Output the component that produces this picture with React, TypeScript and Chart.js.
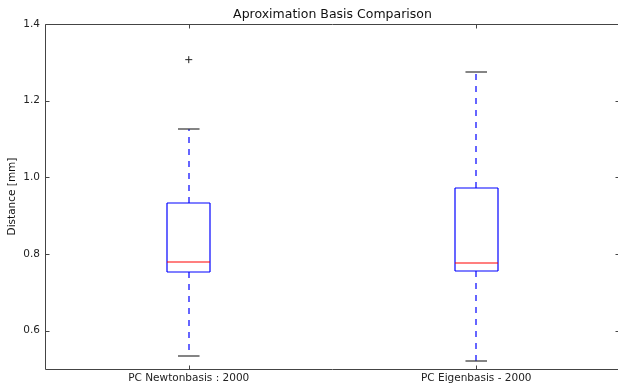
import React, { useEffect, useRef } from 'react';
import { Chart, registerables } from 'chart.js';

Chart.register(...registerables);

const titleText = 'Aproximation Basis Comparison';
const yLabel = 'Distance [mm]';
const categories = ['PC Newtonbasis : 2000', 'PC Eigenbasis - 2000'];
const whiskerLow = [0.533, 0.521];
const q1 = [0.752, 0.755];
const median = [0.778, 0.776];
const q3 = [0.932, 0.971];
const whiskerHigh = [1.127, 1.274];
const outliers = [[1.307], []];
const yTicks = [0.6, 0.8, 1.0, 1.2, 1.4];

const FONT = "'DejaVu Sans', sans-serif";

function line(ctx: CanvasRenderingContext2D, x1: number, y1: number, x2: number, y2: number, color: string, dash: number[] = [], width = 1) {
  ctx.save();
  ctx.strokeStyle = color;
  ctx.lineWidth = width;
  ctx.setLineDash(dash);
  ctx.beginPath();
  ctx.moveTo(x1, y1);
  ctx.lineTo(x2, y2);
  ctx.stroke();
  ctx.restore();
}

export default function App() {
  const ref = useRef<HTMLCanvasElement>(null);

  useEffect(() => {
    const boxPlugin = {
      id: 'boxes',
      afterDatasetsDraw(chart: any) {
        const { ctx, chartArea: a, scales } = chart;
        const xs = scales.x;
        const ys = scales.y;
        const boxHalf = 0.075;
        const capHalf = 0.0375;
        const blue = '#0000ff';
        for (let i = 0; i < categories.length; i++) {
          const xv = i + 1;
          const cx = Math.round(xs.getPixelForValue(xv));
          const bl = Math.round(xs.getPixelForValue(xv - boxHalf));
          const br = Math.round(xs.getPixelForValue(xv + boxHalf));
          const cl = xs.getPixelForValue(xv - capHalf);
          const cr = xs.getPixelForValue(xv + capHalf);
          const yq1 = Math.round(ys.getPixelForValue(q1[i]));
          const yq3 = Math.round(ys.getPixelForValue(q3[i]));
          const ymed = Math.round(ys.getPixelForValue(median[i]));
          const ylo = Math.round(ys.getPixelForValue(whiskerLow[i]));
          const yhi = Math.round(ys.getPixelForValue(whiskerHigh[i]));

          line(ctx, cx, yq3, cx, yhi, blue, [6, 6], 1.2);
          line(ctx, cx, yq1, cx, ylo, blue, [6, 6], 1.2);
          line(ctx, cl, yhi, cr, yhi, '#333', [], 1.2);
          line(ctx, cl, ylo, cr, ylo, '#333', [], 1.2);
          line(ctx, bl, yq3, br, yq3, blue, [], 1.2);
          line(ctx, bl, yq1, br, yq1, blue, [], 1.2);
          line(ctx, bl, yq3, bl, yq1, blue, [], 1.2);
          line(ctx, br, yq3, br, yq1, blue, [], 1.2);
          line(ctx, bl, ymed, br, ymed, '#ff0000', [], 1.2);
        }

        const L = Math.round(a.left) + 0.5;
        const R = Math.round(a.right) - 0.5;
        const T = Math.round(a.top) + 0.5;
        const B = Math.round(a.bottom) + 0.5;
        const frame = '#444';
        line(ctx, L, T, R, T, frame);
        line(ctx, L, B, R, B, frame);
        line(ctx, L, T, L, B, frame);
        line(ctx, R, T, R, B, frame);
        const tl = 4;
        yTicks.forEach((v) => {
          const y = Math.round(ys.getPixelForValue(v)) + 0.5;
          line(ctx, L, y, L + tl, y, frame);
          line(ctx, R, y, R - tl, y, frame);
        });
        categories.forEach((_, i) => {
          const x = Math.round(xs.getPixelForValue(i + 1)) + 0.5;
          line(ctx, x, B, x, B - tl, frame);
          line(ctx, x, T, x, T + tl, frame);
        });

        ctx.save();
        ctx.fillStyle = '#111';
        ctx.font = `12.5px ${FONT}`;
        ctx.textAlign = 'center';
        ctx.textBaseline = 'middle';
        ctx.fillText(titleText, (a.left + a.right) / 2, 15);
        ctx.font = `10.5px ${FONT}`;
        ctx.translate(12, (a.top + a.bottom) / 2);
        ctx.rotate(-Math.PI / 2);
        ctx.fillText(yLabel, 0, 0);
        ctx.restore();
      },
    };

    const outlierPoints: { x: number; y: number }[] = [];
    outliers.forEach((list, i) => list.forEach((v) => outlierPoints.push({ x: i + 1, y: v })));

    const chart = new Chart(ref.current as HTMLCanvasElement, {
      type: 'scatter',
      data: {
        datasets: [
          {
            data: outlierPoints,
            pointStyle: 'cross',
            pointRadius: 3.5,
            borderColor: '#222',
            backgroundColor: '#222',
            borderWidth: 1,
          },
        ],
      },
      options: {
        animation: false,
        responsive: false,
        devicePixelRatio: 1,
        layout: { autoPadding: false, padding: { top: 24, left: 0, right: 0, bottom: 0 } },
        plugins: {
          legend: { display: false },
          tooltip: { enabled: false },
          title: { display: false },
        },
        scales: {
          x: {
            type: 'linear',
            min: 0.5,
            max: 2.5,
            afterBuildTicks: (s: any) => {
              s.ticks = categories.map((_, i) => ({ value: i + 1 }));
            },
            afterFit: (s: any) => {
              s.height = 16;
              s.paddingLeft = 0;
              s.paddingRight = 0;
            },
            grid: { display: false, drawTicks: false },
            border: { display: false },
            ticks: {
              callback: (v: any) => categories[Math.round(Number(v)) - 1],
              font: { family: FONT, size: 10.5 },
              color: '#222',
              padding: 3,
              maxRotation: 0,
              autoSkip: false,
            },
          },
          y: {
            type: 'linear',
            min: 0.5,
            max: 1.4,
            afterBuildTicks: (s: any) => {
              s.ticks = yTicks.map((v) => ({ value: v }));
            },
            afterFit: (s: any) => {
              s.width = 45;
              s.paddingTop = 0;
              s.paddingBottom = 0;
            },
            grid: { display: false, drawTicks: false },
            border: { display: false },
            ticks: {
              callback: (v: any) => Number(v).toFixed(1),
              font: { family: FONT, size: 10.5 },
              color: '#222',
              padding: 5,
            },
          },
        },
      },
      plugins: [boxPlugin],
    });
    return () => chart.destroy();
  }, []);

  return (
    <div style={{ position: 'absolute', left: 0, top: 0, width: 618, height: 385, overflow: 'hidden', background: '#fff' }}>
      <canvas ref={ref} width={620} height={385} style={{ display: 'block' }} />
    </div>
  );
}
